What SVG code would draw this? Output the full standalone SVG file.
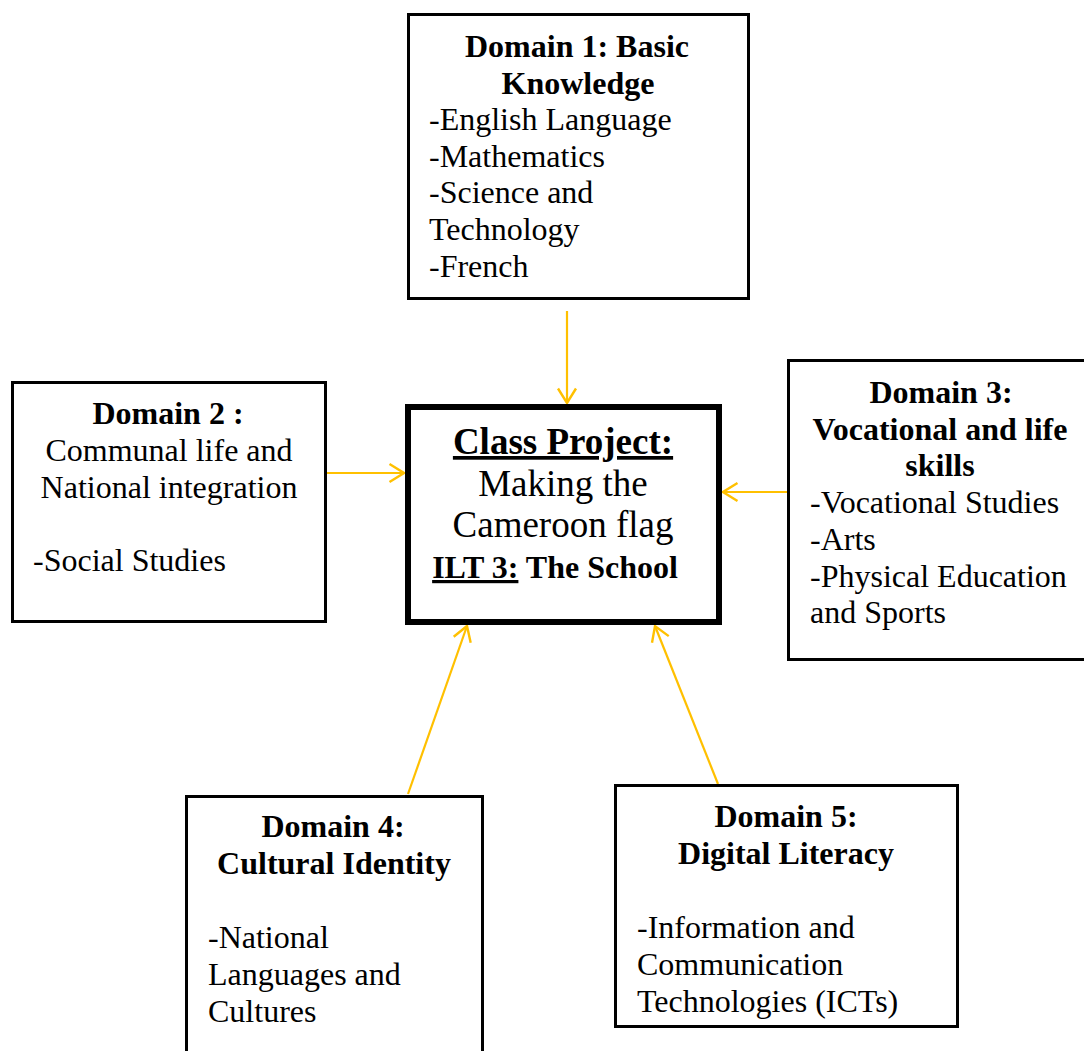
<svg xmlns="http://www.w3.org/2000/svg" width="1084" height="1051" viewBox="0 0 1084 1051">
  <style>
    .box { fill: #ffffff; stroke: #000000; stroke-width: 3; }
    .main { fill: #ffffff; stroke: #000000; stroke-width: 6; }
    text { font-family: "Liberation Serif", "Times New Roman", serif; font-size: 32px; fill: #000000; }
    .b { font-weight: bold; }
    .c { text-anchor: middle; }
    .big { font-size: 37px; }
    .u { text-decoration: underline; }
    .conn { stroke: #FFC000; stroke-width: 2.2; fill: none; marker-end: url(#arr); }
  </style>
  <defs>
    <marker id="arr" viewBox="0 0 18 22" refX="16" refY="11" markerWidth="18" markerHeight="22" markerUnits="userSpaceOnUse" orient="auto">
      <path d="M1.5,2 L16,11 L1.5,20" fill="none" stroke="#FFC000" stroke-width="2.4" stroke-linecap="butt" stroke-linejoin="miter"/>
    </marker>
  </defs>
  <rect x="0" y="0" width="1084" height="1051" fill="#ffffff"/>

  <g id="connectors">
    <line class="conn" x1="567" y1="311" x2="567" y2="403"/>
    <line class="conn" x1="327" y1="473" x2="404" y2="473"/>
    <line class="conn" x1="787" y1="492" x2="723" y2="492"/>
    <line class="conn" x1="408" y1="794" x2="467" y2="626"/>
    <line class="conn" x1="718" y1="784" x2="655" y2="626"/>
  </g>

  <g id="domain1">
    <rect class="box" x="408.5" y="14.5" width="340" height="284"/>
    <text class="b c" x="577" y="57">Domain 1: Basic</text>
    <text class="b c" x="578" y="94">Knowledge</text>
    <text x="429" y="130">-English Language</text>
    <text x="429" y="167">-Mathematics</text>
    <text x="429" y="203">-Science and</text>
    <text x="429" y="240">Technology</text>
    <text x="429" y="277">-French</text>
  </g>

  <g id="domain2">
    <rect class="box" x="12.5" y="382.5" width="313" height="239"/>
    <text class="b c" x="168" y="424">Domain 2 :</text>
    <text class="c" x="169" y="461">Communal life and</text>
    <text class="c" x="169" y="498">National integration</text>
    <text x="33" y="571">-Social Studies</text>
  </g>

  <g id="center">
    <rect class="main" x="408" y="407" width="311" height="215"/>
    <text class="b c big u" x="563" y="454">Class Project:</text>
    <text class="c big" x="563" y="496">Making the</text>
    <text class="c big" x="563" y="537">Cameroon flag</text>
    <text class="b c" x="555" y="578"><tspan class="u">ILT 3:</tspan> The School</text>
  </g>

  <g id="domain3">
    <rect class="box" x="788.5" y="360.5" width="300" height="299"/>
    <text class="b c" x="941" y="403">Domain 3:</text>
    <text class="b c" x="940" y="440">Vocational and life</text>
    <text class="b c" x="940" y="476">skills</text>
    <text x="810" y="513">-Vocational Studies</text>
    <text x="810" y="550">-Arts</text>
    <text x="810" y="587">-Physical Education</text>
    <text x="810" y="623">and Sports</text>
  </g>

  <g id="domain4">
    <rect class="box" x="186.5" y="796.5" width="296" height="270"/>
    <text class="b c" x="333" y="837">Domain 4:</text>
    <text class="b c" x="334" y="874">Cultural Identity</text>
    <text x="208" y="948">-National</text>
    <text x="208" y="985">Languages and</text>
    <text x="208" y="1022">Cultures</text>
  </g>

  <g id="domain5">
    <rect class="box" x="615.5" y="785.5" width="342" height="241"/>
    <text class="b c" x="786" y="827">Domain 5:</text>
    <text class="b c" x="786" y="864">Digital Literacy</text>
    <text x="637" y="938">-Information and</text>
    <text x="637" y="975">Communication</text>
    <text x="637" y="1012">Technologies (ICTs)</text>
  </g>
</svg>
